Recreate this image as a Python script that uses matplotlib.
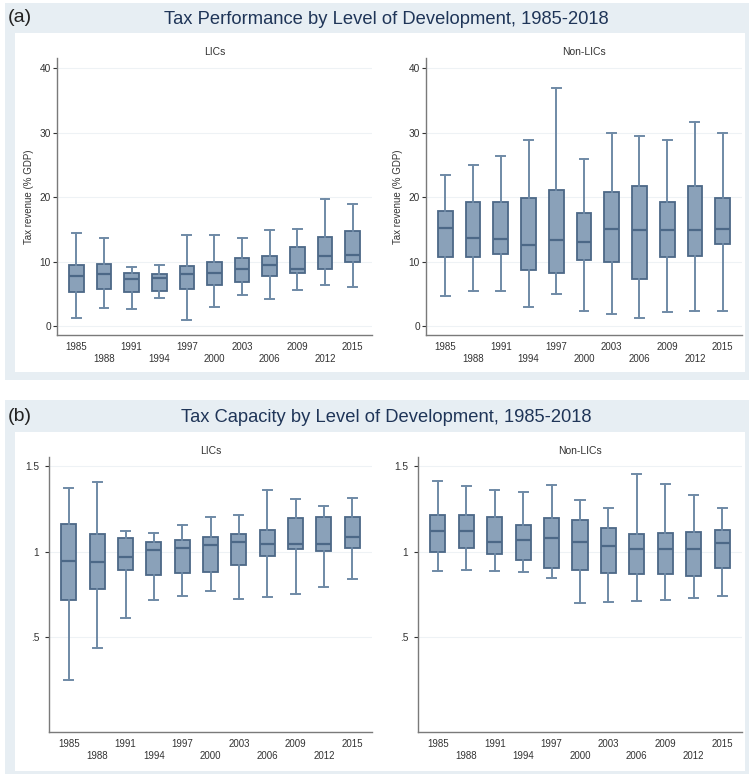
import matplotlib
matplotlib.use("Agg")
import matplotlib.pyplot as plt
from matplotlib.patches import Rectangle

plt.rcParams['font.family'] = ['Liberation Sans', 'DejaVu Sans']

W, H = 749, 774

years = [1985, 1988, 1991, 1994, 1997, 2000, 2003, 2006, 2009, 2012, 2015]

# (a) tax revenue, % GDP -- LICs
lic_rev_lo = [1.3, 2.8, 2.7, 4.3, 1.0, 2.9, 4.8, 4.2, 5.6, 6.3, 6.1]
lic_rev_q1 = [5.2, 5.8, 5.3, 5.4, 5.7, 6.3, 6.9, 7.7, 8.3, 8.8, 10.0]
lic_rev_med = [7.7, 8.1, 7.3, 7.5, 8.1, 8.3, 8.9, 9.4, 8.9, 10.9, 11.0]
lic_rev_q3 = [9.5, 9.6, 8.3, 8.1, 9.3, 9.9, 10.5, 10.9, 12.3, 13.8, 14.8]
lic_rev_hi = [14.4, 13.7, 9.2, 9.4, 14.2, 14.2, 13.6, 14.9, 15.1, 19.7, 19.0]

# (a) tax revenue, % GDP -- Non-LICs
non_rev_lo = [4.7, 5.5, 5.4, 3.0, 4.9, 2.4, 1.9, 1.2, 2.1, 2.3, 2.4]
non_rev_q1 = [10.7, 10.7, 11.2, 8.7, 8.2, 10.2, 10.0, 7.3, 10.7, 10.8, 12.8]
non_rev_med = [15.2, 13.7, 13.5, 12.5, 13.3, 13.0, 15.1, 14.9, 14.9, 14.9, 15.0]
non_rev_q3 = [17.8, 19.2, 19.3, 19.9, 21.1, 17.6, 20.8, 21.8, 19.2, 21.7, 19.8]
non_rev_hi = [23.4, 25.0, 26.4, 28.9, 36.9, 25.9, 29.9, 29.5, 28.8, 31.7, 30.0]

# (b) tax capacity -- LICs
lic_cap_lo = [0.251, 0.434, 0.611, 0.714, 0.737, 0.768, 0.724, 0.732, 0.751, 0.790, 0.839]
lic_cap_q1 = [0.716, 0.780, 0.889, 0.864, 0.875, 0.879, 0.922, 0.971, 1.012, 1.004, 1.018]
lic_cap_med = [0.944, 0.938, 0.967, 1.010, 1.018, 1.037, 1.058, 1.045, 1.045, 1.045, 1.084]
lic_cap_q3 = [1.163, 1.103, 1.080, 1.056, 1.066, 1.086, 1.103, 1.126, 1.195, 1.202, 1.204]
lic_cap_hi = [1.374, 1.409, 1.119, 1.111, 1.156, 1.202, 1.216, 1.360, 1.307, 1.267, 1.313]

# (b) tax capacity -- Non-LICs
non_cap_lo = [0.885, 0.893, 0.885, 0.881, 0.846, 0.698, 0.704, 0.712, 0.718, 0.730, 0.741]
non_cap_q1 = [1.000, 1.023, 0.984, 0.953, 0.901, 0.889, 0.877, 0.866, 0.868, 0.856, 0.901]
non_cap_med = [1.119, 1.119, 1.054, 1.066, 1.080, 1.058, 1.035, 1.012, 1.014, 1.012, 1.047]
non_cap_q3 = [1.212, 1.212, 1.202, 1.156, 1.196, 1.185, 1.138, 1.103, 1.109, 1.113, 1.125]
non_cap_hi = [1.412, 1.385, 1.358, 1.348, 1.389, 1.302, 1.253, 1.453, 1.397, 1.331, 1.253]

panel_bg = '#e7eef3'
box_face = '#8aa1b9'
box_edge = '#4c6887'
whisk_col = '#6f8aa6'
title_col = '#1f3558'
text_col = '#333333'


def px_rect(x0, y0, x1, y1):
    return [x0 / W, 1 - y1 / H, (x1 - x0) / W, (y1 - y0) / H]


def stats_for(lo, q1, med, q3, hi):
    out = []
    for i in range(len(years)):
        out.append(dict(whislo=lo[i], q1=q1[i], med=med[i], q3=q3[i],
                        whishi=hi[i], fliers=[], label=str(years[i])))
    return out


def draw_box(ax, stats, ylim, yticks, yticklabels, subtitle, ylabel=None, ypad=1.5):
    ax.bxp(stats, positions=range(len(years)), widths=0.53, capwidths=0.32,
           showfliers=False, patch_artist=True,
           boxprops=dict(facecolor=box_face, edgecolor=box_edge, linewidth=1.3),
           medianprops=dict(color=box_edge, linewidth=1.6),
           whiskerprops=dict(color=whisk_col, linewidth=1.4),
           capprops=dict(color=whisk_col, linewidth=1.4))
    ax.set_xlim(-0.7, 10.7)
    ax.set_ylim(*ylim)
    ax.set_yticks(yticks)
    ax.set_yticklabels(yticklabels)
    ax.set_xticks(range(len(years)))
    ax.set_xticklabels([str(y) if i % 2 == 0 else '\n' + str(y)
                        for i, y in enumerate(years)])
    ax.tick_params(axis='x', length=0, labelsize=7, colors=text_col, pad=5)
    ax.tick_params(axis='y', length=3, labelsize=7.3, colors=text_col, width=0.8, pad=ypad)
    ax.yaxis.grid(True, color='#eef2f5', linewidth=0.8)
    ax.set_axisbelow(True)
    for s in ['top', 'right']:
        ax.spines[s].set_visible(False)
    for s in ['left', 'bottom']:
        ax.spines[s].set_color('#7a7a7a')
        ax.spines[s].set_linewidth(1.0)
    ax.set_title(subtitle, fontsize=7.5, color=text_col, pad=2.5)
    if ylabel:
        ax.set_ylabel(ylabel, fontsize=7, color=text_col, labelpad=4)


fig = plt.figure(figsize=(W / 100, H / 100), dpi=100)

# panel backgrounds
for (x0, y0, x1, y1), (ix0, iy0, ix1, iy1) in [
        ((5, 3, 749, 380), (15, 33, 745, 372)),
        ((5, 400, 749, 774), (15, 432, 745, 771))]:
    r = px_rect(x0, y0, x1, y1)
    fig.patches.append(Rectangle((r[0], r[1]), r[2], r[3], transform=fig.transFigure,
                                 facecolor=panel_bg, edgecolor='none', zorder=-2))
    r = px_rect(ix0, iy0, ix1, iy1)
    fig.patches.append(Rectangle((r[0], r[1]), r[2], r[3], transform=fig.transFigure,
                                 facecolor='white', edgecolor='none', zorder=-1))

fig.text(8 / W, 1 - 18 / H, '(a)', fontsize=14, color='#222222', va='center', ha='left')
fig.text(386 / W, 1 - 20 / H, 'Tax Performance by Level of Development, 1985-2018',
         fontsize=13.2, color=title_col, va='center', ha='center')
fig.text(8 / W, 1 - 417 / H, '(b)', fontsize=14, color='#222222', va='center', ha='left')
fig.text(386 / W, 1 - 418 / H, 'Tax Capacity by Level of Development, 1985-2018',
         fontsize=13.2, color=title_col, va='center', ha='center')

ax1 = fig.add_axes(px_rect(57, 58, 372, 335))
draw_box(ax1, stats_for(lic_rev_lo, lic_rev_q1, lic_rev_med, lic_rev_q3, lic_rev_hi),
         (-1.4, 41.6), [0, 10, 20, 30, 40], ['0', '10', '20', '30', '40'],
         'LICs', 'Tax revenue (% GDP)')

ax2 = fig.add_axes(px_rect(426, 58, 742, 335))
draw_box(ax2, stats_for(non_rev_lo, non_rev_q1, non_rev_med, non_rev_q3, non_rev_hi),
         (-1.4, 41.6), [0, 10, 20, 30, 40], ['0', '10', '20', '30', '40'],
         'Non-LICs', 'Tax revenue (% GDP)')

ax3 = fig.add_axes(px_rect(49, 457, 372, 732))
draw_box(ax3, stats_for(lic_cap_lo, lic_cap_q1, lic_cap_med, lic_cap_q3, lic_cap_hi),
         (-0.056, 1.553), [0.5, 1, 1.5], ['.5', '1', '1.5'], 'LICs', ypad=4)

ax4 = fig.add_axes(px_rect(418, 457, 742, 732))
draw_box(ax4, stats_for(non_cap_lo, non_cap_q1, non_cap_med, non_cap_q3, non_cap_hi),
         (-0.056, 1.553), [0.5, 1, 1.5], ['.5', '1', '1.5'], 'Non-LICs', ypad=4)

fig.savefig('out.png', dpi=100)
